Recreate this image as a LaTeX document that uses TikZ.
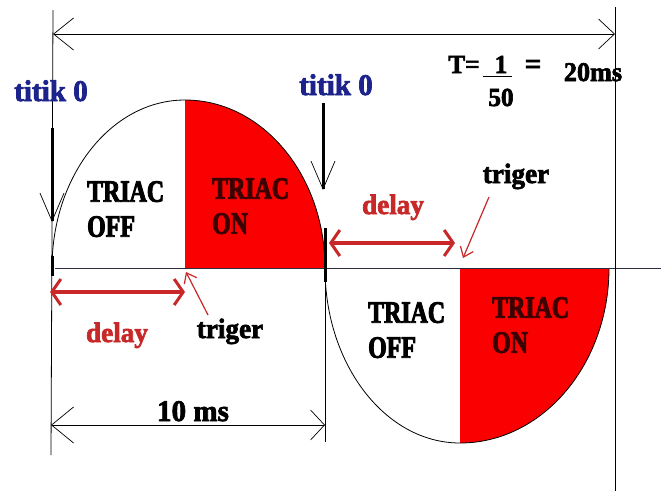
\documentclass[tikz,border=0pt]{standalone}
\usepackage{fontspec}
\usetikzlibrary{arrows.meta}
\newfontfamily\capfont[FakeStretch=0.77,FakeBold=3]{Liberation Serif}
\newfontfamily\lowfont[FakeStretch=0.97,FakeBold=2.4]{Liberation Serif}
\definecolor{fillred}{RGB}{250,0,0}
\definecolor{titikblue}{RGB}{28,36,140}
\definecolor{delayred}{RGB}{200,40,40}
\definecolor{ontext}{RGB}{60,0,0}
\definecolor{axisgray}{RGB}{45,45,65}
\tikzset{
  thinline/.style={line width=0.8pt, black},
  axisline/.style={line width=0.9pt, axisgray},
  wave/.style={line width=0.8pt, black},
  dimarrow/.style={thinline, {Straight Barb[length=20pt,width=32pt,line width=0.7pt]}-{Straight Barb[length=16pt,width=30pt,line width=0.7pt]}},
  tenarrow/.style={thinline, {Straight Barb[length=22pt,width=36pt,line width=0.7pt]}-{Straight Barb[length=14pt,width=30pt,line width=0.7pt]}},
  zeroarrow/.style={line width=3pt, black, -{Straight Barb[length=28pt,width=24pt,line width=0.7pt]}},
  delayarrow/.style={line width=3.5pt, delayred, {Straight Barb[length=9pt,width=26pt,line width=3pt]}-{Straight Barb[length=9pt,width=26pt,line width=3pt]}},
  trigarrow/.style={line width=1.2pt, delayred, -{Straight Barb[length=9pt,width=14pt,line width=1.2pt]}},
  capslabel/.style={inner sep=0pt, anchor=north west, align=left, font=\capfont\bfseries\fontsize{31}{35}\selectfont},
  titiklabel/.style={inner sep=0pt, anchor=base, text=titikblue, font=\lowfont\bfseries\fontsize{30}{32}\selectfont},
  delaylabel/.style={inner sep=0pt, anchor=base, text=delayred, font=\lowfont\bfseries\fontsize{28}{30}\selectfont},
  triglabel/.style={inner sep=0pt, anchor=base, text=black, font=\lowfont\bfseries\fontsize{28}{30}\selectfont},
  mathlabel/.style={inner sep=0pt, anchor=base, text=black, font=\lowfont\bfseries\fontsize{26}{28}\selectfont},
}
\begin{document}
\begin{tikzpicture}[x=1pt,y=-1pt]
\useasboundingbox (0,0) rectangle (661,491);
\fill[white] (0,0) rectangle (661,491);

% key points of the wave
\coordinate (Z0) at (52,268);
\coordinate (P)  at (185,100);
\coordinate (PB) at (185,268);
\coordinate (Z1) at (325,268);
\coordinate (Q)  at (460,443);
\coordinate (QB) at (460,268);
\coordinate (Z2) at (609,268);

% red "ON" regions
\fill[fillred] (PB) -- (P) arc[start angle=90,end angle=0,x radius=140pt,y radius=168pt] -- cycle;
\fill[fillred] (QB) -- (Q) arc[start angle=270,end angle=360,x radius=149pt,y radius=175pt] -- cycle;

% wave
\draw[wave] (Z0) arc[start angle=180,end angle=90,x radius=133pt,y radius=168pt]
  arc[start angle=90,end angle=0,x radius=140pt,y radius=168pt]
  arc[start angle=180,end angle=270,x radius=135pt,y radius=175pt]
  arc[start angle=270,end angle=360,x radius=149pt,y radius=175pt];

% axis and frame lines
\coordinate (A0) at (55,268);
\coordinate (A1) at (661,268);
\draw[axisline] (A0) -- (A1);
\coordinate (LT) at (53,10);
\coordinate (LB) at (51,455);
\draw[thinline] (LT) -- (LB);
\coordinate (RT) at (615,7);
\coordinate (RB) at (615,491);
\draw[thinline] (RT) -- (RB);
\coordinate (MT) at (325,270);
\coordinate (MB) at (325,442);
\draw[thinline] (MT) -- (MB);

% period dimension
\coordinate (D1) at (53,34);
\coordinate (D2) at (615,34);
\draw[dimarrow] (D1) -- (D2);

% half period dimension
\coordinate (E1) at (51,425);
\coordinate (E2) at (325,425);
\draw[tenarrow] (E1) -- (E2);
\node[triglabel, font=\lowfont\bfseries\fontsize{30}{32}\selectfont] (ten) at (193,421) {10 ms};

% zero-crossing markers
\coordinate (ZL1) at (52,128);
\coordinate (ZL2) at (52,222);
\draw[zeroarrow] (ZL1) -- (ZL2);
\coordinate (ZC1) at (323,103);
\coordinate (ZC2) at (323,190);
\draw[zeroarrow] (ZC1) -- (ZC2);
\coordinate (KL1) at (52,256);
\coordinate (KL2) at (52,276);
\draw[line width=3pt] (KL1) -- (KL2);
\coordinate (KC1) at (325,228);
\coordinate (KC2) at (325,282);
\draw[line width=3pt] (KC1) -- (KC2);

\node[titiklabel] (titikL) at (51,101) {titik 0};
\node[titiklabel] (titikC) at (336,95) {titik 0};

% period formula
\node[mathlabel] (Teq) at (464,73) {T=};
\node[mathlabel] (one) at (501,73) {1};
\coordinate (FB1) at (483,76);
\coordinate (FB2) at (512,76);
\draw[line width=1pt] (FB1) -- (FB2);
\node[mathlabel] (fifty) at (501,106) {50};
\node[mathlabel, font=\lowfont\bfseries\fontsize{30}{32}\selectfont] (eq) at (533,74) {=};
\node[mathlabel, font=\lowfont\bfseries\fontsize{27}{30}\selectfont] (twenty) at (593,81) {20ms};

% TRIAC labels
\node[capslabel] (offA) at (87,181) {TRIAC\\OFF};
\node[capslabel, text=ontext] (onA) at (212,178) {TRIAC\\ON};
\node[capslabel] (offB) at (368,302) {TRIAC\\OFF};
\node[capslabel, text=ontext] (onB) at (492,297) {TRIAC\\ON};

% delays
\coordinate (DL1) at (50,292);
\coordinate (DL2) at (185,292);
\draw[delayarrow] (DL1) -- (DL2);
\node[delaylabel] (delayL) at (117,342) {delay};
\coordinate (DU1) at (329,243);
\coordinate (DU2) at (455,243);
\draw[delayarrow] (DU1) -- (DU2);
\node[delaylabel] (delayU) at (393,214) {delay};

% triggers
\node[triglabel] (trigL) at (230,338) {triger};
\node[triglabel] (trigU) at (516,183) {triger};
\coordinate (TL1) at (208,315);
\coordinate (TL2) at (186,272);
\draw[trigarrow] (TL1) -- (TL2);
\coordinate (TU1) at (489,197);
\coordinate (TU2) at (463,258);
\draw[trigarrow] (TU1) -- (TU2);
\end{tikzpicture}
\end{document}
